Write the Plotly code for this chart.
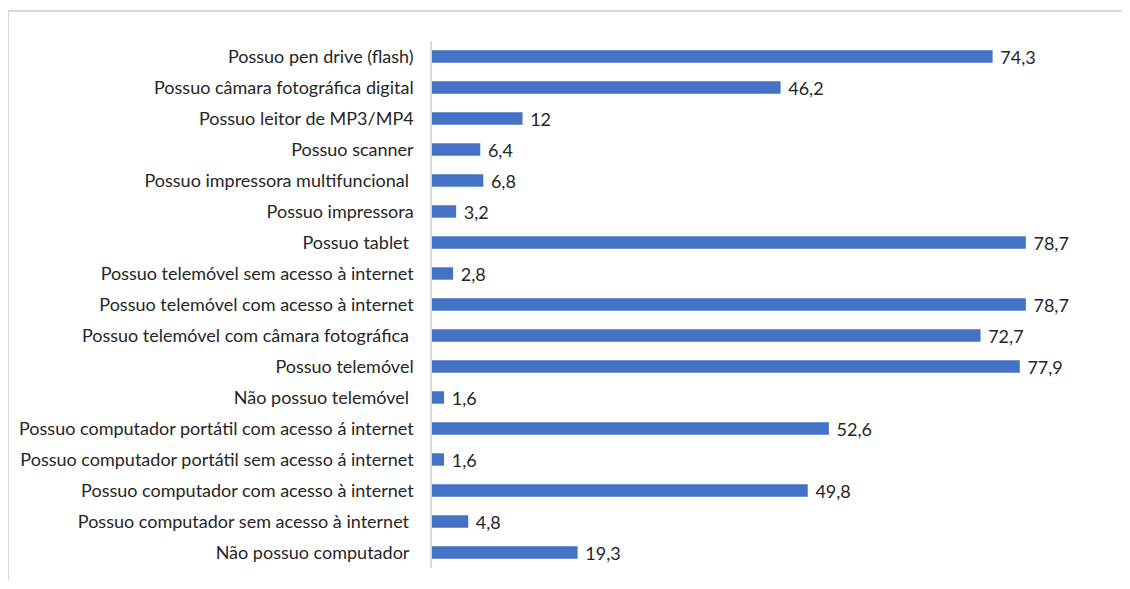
import plotly.graph_objects as go

# Categories, top to bottom as shown
categories = [
    'Possuo pen drive (flash)',
    'Possuo câmara fotográfica digital',
    'Possuo leitor de MP3/MP4',
    'Possuo scanner',
    'Possuo impressora multifuncional\u00a0',
    'Possuo impressora',
    'Possuo tablet\u00a0',
    'Possuo telemóvel sem acesso à internet',
    'Possuo telemóvel com acesso à internet',
    'Possuo telemóvel com câmara fotográfica\u00a0',
    'Possuo telemóvel',
    'Não possuo telemóvel\u00a0',
    'Possuo computador portátil com acesso á internet',
    'Possuo computador portátil sem acesso á internet',
    'Possuo computador com acesso à internet',
    'Possuo computador sem acesso à internet\u00a0',
    'Não possuo computador\u00a0',
]
values = [74.3, 46.2, 12, 6.4, 6.8, 3.2, 78.7, 2.8, 78.7, 72.7, 77.9, 1.6, 52.6, 1.6, 49.8, 4.8, 19.3]

labels = [' ' + f'{v:g}'.replace('.', ',') for v in values]

fig = go.Figure(go.Bar(
    x=values,
    y=categories,
    orientation='h',
    marker=dict(color='#4472C4', line=dict(width=0)),
    text=labels,
    textposition='outside',
    constraintext='none',
    textfont=dict(size=18, color='#262626', family='Lato'),
    cliponaxis=False,
))

fig.update_layout(
    width=1122,
    height=573,
    margin=dict(l=424, r=34, t=33, b=13),
    paper_bgcolor='white',
    plot_bgcolor='white',
    font=dict(family='Lato', size=18, color='#262626'),
    bargap=0.6,
    showlegend=False,
    xaxis=dict(
        range=[0, 88],
        visible=False,
    ),
    yaxis=dict(
        categoryorder='array',
        categoryarray=categories,
        autorange='reversed',
        showline=True,
        linecolor='#D9D9D9',
        linewidth=1.5,
        showgrid=False,
        ticks='',
        ticklabelstandoff=13,
        tickfont=dict(size=18, color='#262626'),
    ),
    shapes=[dict(
        type='rect', xref='paper', yref='paper',
        x0=(0 - 424) / 664, x1=1.2,
        y0=-0.2, y1=1 + 30 / 527,
        line=dict(color='#D9D9D9', width=2),
        fillcolor='rgba(0,0,0,0)',
    )],
)

fig.write_html('out.html')
